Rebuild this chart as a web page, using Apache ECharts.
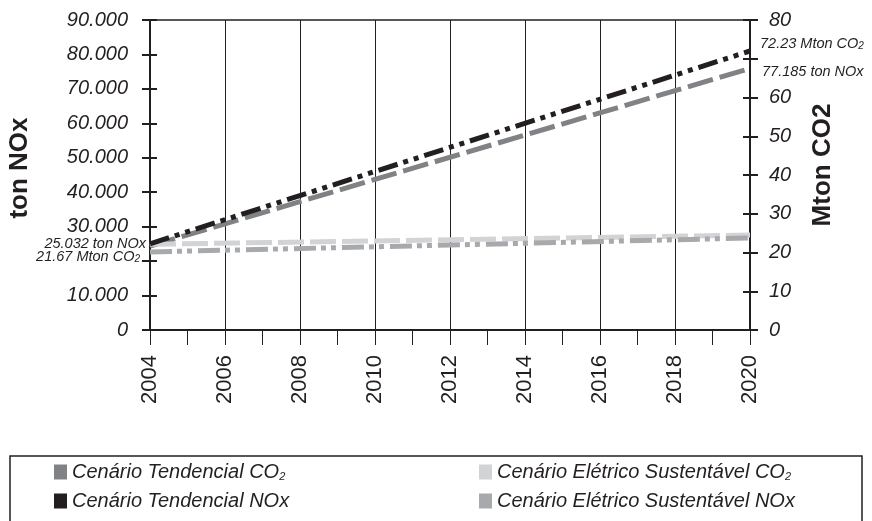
<!DOCTYPE html>
<html>
<head>
<meta charset="utf-8">
<script src="https://cdn.jsdelivr.net/npm/echarts@6/dist/echarts.min.js"></script>
<style>
html,body{margin:0;padding:0;background:#fff;}
#chart{width:872px;height:521px;}
</style>
</head>
<body>
<div id="chart"></div>
<script>
// ---- data ----
var years = [2004, 2020];
var tendencialCO2 = [21.67, 67.5];     // Mton CO2, right axis, dashed dark grey
var tendencialNOx = [25032, 81000];    // ton NOx, left axis, dash-dot-dot black
var eletricoCO2 = [22.1, 24.5];        // Mton CO2, right axis, dashed light grey
var eletricoNOx = [22650, 26700];      // ton NOx, left axis, dash-dot-dot mid grey

var seriesNames = ['Cenário Tendencial CO2', 'Cenário Tendencial NOx', 'Cenário Elétrico Sustentável CO2', 'Cenário Elétrico Sustentável NOx'];
var leftTickLabels = ['0', '10.000', '', '30.000', '40.000', '50.000', '60.000', '70.000', '80.000', '90.000'];
var rightTickLabels = ['0', '10', '20', '30', '40', '50', '60', '', '80'];
var annotations = ['25.032 ton NOx', '21.67 Mton CO2', '72.23 Mton CO2', '77.185 ton NOx'];

function pairs(xs, ys) { return xs.map(function (x, i) { return [x, ys[i]]; }); }

var ink = '#231f20';
var font = '"Liberation Sans", Arial, sans-serif';
function subRich(size) {
  return { s: { fontSize: size, fontStyle: 'italic', fontFamily: font, color: ink, verticalAlign: 'bottom', padding: [Math.round(size * 0.45), 0, 0, 0] } };
}
function co2rich(t) { return t.replace('CO2', 'CO{s|2}'); }

var chart = echarts.init(document.getElementById('chart'), null, { renderer: 'canvas' });

var yBase = { type: 'value', splitLine: { show: false } };
var legendText = { fontSize: 20, fontStyle: 'italic', fontFamily: font, color: ink, rich: subRich(11) };

var option = {
  animation: false,
  backgroundColor: '#fff',
  grid: { left: 150, right: 122, top: 20, bottom: 191, show: true, borderColor: ink, borderWidth: 1.5, backgroundColor: 'transparent' },
  xAxis: {
    type: 'value', min: 2004, max: 2020, interval: 2,
    axisLine: { show: true, lineStyle: { color: ink, width: 2 } },
    axisTick: { show: true, length: 15, lineStyle: { color: ink, width: 1 } },
    minorTick: { show: true, splitNumber: 2, length: 15, lineStyle: { color: ink, width: 1 } },
    splitLine: { show: true, lineStyle: { color: ink, width: 1 } },
    axisLabel: { rotate: 90, margin: 25, fontSize: 22, fontFamily: font, color: ink, formatter: function (v) { return String(v); } }
  },
  yAxis: [
    Object.assign({}, yBase, {
      position: 'left', min: 0, max: 90000, interval: 10000,
      axisLine: { show: true, lineStyle: { color: ink, width: 2 } },
      axisTick: { show: true, length: 8, lineStyle: { color: ink, width: 2 } },
      axisLabel: { margin: 22, fontSize: 20, fontStyle: 'italic', fontFamily: font, color: ink, padding: [0, 0, 6, 0],
        formatter: function (v) { return leftTickLabels[Math.round(v / 10000)]; } }
    }),
    Object.assign({}, yBase, {
      position: 'right', min: 0, max: 80, interval: 10,
      axisLine: { show: true, lineStyle: { color: ink, width: 2 } },
      axisTick: { show: true, length: 8, lineStyle: { color: ink, width: 2 } },
      axisLabel: { margin: 19, fontSize: 20, fontStyle: 'italic', fontFamily: font, color: ink,
        formatter: function (v) { return rightTickLabels[Math.round(v / 10)]; } }
    }),
    Object.assign({}, yBase, {
      position: 'left', min: 0, max: 90000, interval: 10000,
      axisLine: { show: false }, axisLabel: { show: false },
      axisTick: { show: true, inside: true, length: 7, lineStyle: { color: ink, width: 2 } }
    }),
    Object.assign({}, yBase, {
      position: 'right', min: 0, max: 80, interval: 10,
      axisLine: { show: false }, axisLabel: { show: false },
      axisTick: { show: true, inside: true, length: 7, lineStyle: { color: ink, width: 2 } }
    })
  ],
  legend: [
    {
      left: 54, top: 462, padding: 0, orient: 'vertical', itemGap: 9, icon: 'rect', itemWidth: 13, itemHeight: 15,
      data: [seriesNames[0], seriesNames[1]],
      formatter: co2rich, textStyle: legendText
    },
    {
      left: 479, top: 462, padding: 0, orient: 'vertical', itemGap: 9, icon: 'rect', itemWidth: 13, itemHeight: 15,
      data: [seriesNames[2], seriesNames[3]],
      formatter: co2rich, textStyle: legendText
    }
  ],
  series: [
    { name: seriesNames[0], type: 'line', yAxisIndex: 1, data: pairs(years, tendencialCO2), showSymbol: false, color: '#808285',
      lineStyle: { width: 5, color: '#808285', type: [26, 7] }, z: 2 },
    { name: seriesNames[2], type: 'line', yAxisIndex: 1, data: pairs(years, eletricoCO2), showSymbol: false, color: '#d1d3d4',
      lineStyle: { width: 5, color: '#d1d3d4', type: [26, 6] }, z: 2 },
    { name: seriesNames[3], type: 'line', yAxisIndex: 0, data: pairs(years, eletricoNOx), showSymbol: false, color: '#a7a9ac',
      lineStyle: { width: 5, color: '#a7a9ac', type: [22, 5, 5, 5, 5, 6] }, z: 2 },
    { name: seriesNames[1], type: 'line', yAxisIndex: 0, data: pairs(years, tendencialNOx), showSymbol: false, color: ink,
      lineStyle: { width: 5, color: ink, type: [20, 6, 5, 6, 5, 6] }, z: 3 }
  ],
  graphic: [
    { type: 'text', x: 20, y: 168, rotation: Math.PI / 2,
      style: { text: 'ton NOx', font: 'bold 26px ' + font, fill: ink, align: 'center', verticalAlign: 'middle' } },
    { type: 'text', x: 823, y: 165, rotation: Math.PI / 2,
      style: { text: 'Mton CO2', font: 'bold 26px ' + font, fill: ink, align: 'center', verticalAlign: 'middle' } },
    { type: 'text', x: 146, y: 244,
      style: { text: annotations[0], font: 'italic 14.5px ' + font, fill: ink, align: 'right', verticalAlign: 'middle' } },
    { type: 'text', x: 140, y: 257,
      style: { text: co2rich(annotations[1]), font: 'italic 14.5px ' + font, fill: ink, align: 'right', verticalAlign: 'middle', rich: subRich(10) } },
    { type: 'text', x: 760, y: 44,
      style: { text: co2rich(annotations[2]), font: 'italic 14.5px ' + font, fill: ink, align: 'left', verticalAlign: 'middle', rich: subRich(10) } },
    { type: 'text', x: 762, y: 72,
      style: { text: annotations[3], font: 'italic 14.5px ' + font, fill: ink, align: 'left', verticalAlign: 'middle' } },
    { type: 'rect', shape: { x: 10, y: 456, width: 852, height: 80 },
      style: { fill: 'none', stroke: ink, lineWidth: 1.5 } }
  ]
};
chart.setOption(option);
</script>
</body>
</html>
